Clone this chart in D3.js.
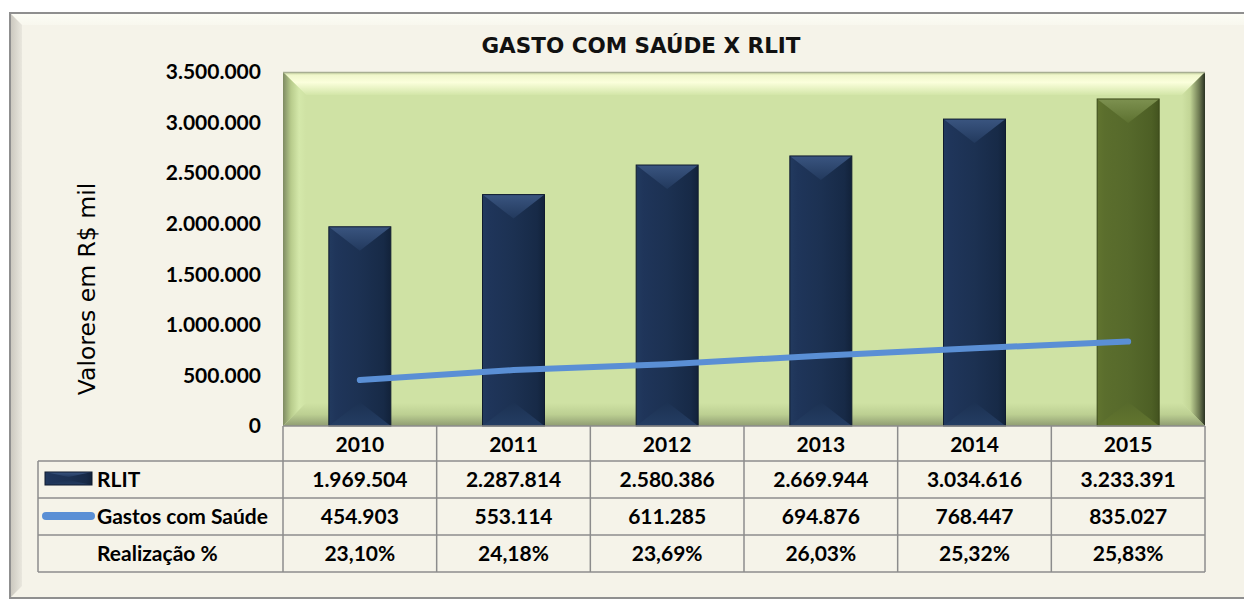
<!DOCTYPE html>
<html><head><meta charset="utf-8">
<script src="https://cdn.jsdelivr.net/npm/d3@7"></script>
<style>html,body{margin:0;padding:0;background:#fff;}svg{display:block;}</style>
</head><body>
<svg id="c" width="1244" height="601"></svg>
<script>
const years = ["2010","2011","2012","2013","2014","2015"];
const rlit = [1969504,2287814,2580386,2669944,3034616,3233391];
const gastos = [454903,553114,611285,694876,768447,835027];
const realizacao = ["23,10%","24,18%","23,69%","26,03%","25,32%","25,83%"];
const yTicks = [0,500000,1000000,1500000,2000000,2500000,3000000,3500000];
const rowLabels = ["RLIT","Gastos com Saúde","Realização %"];

const fmt = v => d3.format(",")(v).replace(/,/g,".");
const svg = d3.select("#c");
const defs = svg.append("defs");
function lin(id, x1,y1,x2,y2, stops){
  const g = defs.append("linearGradient").attr("id",id)
    .attr("x1",x1).attr("y1",y1).attr("x2",x2).attr("y2",y2);
  stops.forEach(s=>g.append("stop").attr("offset",s[0]).attr("stop-color",s[1]));
}
const FONT = "Lato, 'Open Sans', sans-serif";
const TFONT = "'DejaVu Sans', Verdana, sans-serif";

// outer frame
const F = {x0:10, y0:13, x1:1260, y1:598, b:12};
svg.append("rect").attr("x",F.x0).attr("y",F.y0).attr("width",F.x1-F.x0).attr("height",F.y1-F.y0)
  .attr("fill","#f5f3e9");
lin("fl","0","0","1","0",[[0,"#c9c6bd"],[1,"#e9e7de"]]);
lin("ft","0","0","0","1",[[0,"#fdfdf6"],[1,"#f8f7ee"]]);
svg.append("polygon").attr("points",[[F.x0,F.y0],[F.x1,F.y0],[F.x1-F.b,F.y0+F.b],[F.x0+F.b,F.y0+F.b]].join(" ")).attr("fill","url(#ft)");
svg.append("polygon").attr("points",[[F.x0,F.y0],[F.x0+F.b,F.y0+F.b],[F.x0+F.b,F.y1-F.b],[F.x0,F.y1]].join(" ")).attr("fill","url(#fl)");
svg.append("rect").attr("x",F.x0).attr("y",F.y0).attr("width",F.x1-F.x0).attr("height",F.y1-F.y0)
  .attr("fill","none").attr("stroke","#8f8f8f").attr("stroke-width",2);

// scales
const x = d3.scaleBand().domain(years).range([283,1205]).padding(0);
const y = d3.scaleLinear().domain([0,3500000]).range([426,72]);
const bw = 62;

// plot area with bevel
const P = {x0:x.range()[0], x1:x.range()[1], y0:y(3500000), y1:y(0), b:23};
svg.append("rect").attr("x",P.x0).attr("y",P.y0).attr("width",P.x1-P.x0).attr("height",P.y1-P.y0).attr("fill","#cfe2a4");
lin("pt","0","0","0","1",[[0,"#c9d6a0"],[0.15,"#f0f7cc"],[0.45,"#fbffdc"],[1,"#d3e6a8"]]);
lin("pl","0","0","1","0",[[0,"#7e8a62"],[0.35,"#b8cc8c"],[0.7,"#d4e8aa"],[1,"#cfe2a4"]]);
lin("pr","0","0","1","0",[[0,"#cfe2a4"],[0.35,"#c2d596"],[0.75,"#6e7a52"],[1,"#2a3222"]]);
lin("pb","0","0","0","1",[[0,"#cfe2a4"],[0.5,"#bccf92"],[1,"#8f9c72"]]);
svg.append("polygon").attr("points",[[P.x0,P.y0],[P.x1,P.y0],[P.x1-P.b,P.y0+P.b],[P.x0+P.b,P.y0+P.b]].join(" ")).attr("fill","url(#pt)");
svg.append("polygon").attr("points",[[P.x0,P.y0],[P.x0+P.b,P.y0+P.b],[P.x0+P.b,P.y1-P.b],[P.x0,P.y1]].join(" ")).attr("fill","url(#pl)");
svg.append("polygon").attr("points",[[P.x1,P.y0],[P.x1,P.y1],[P.x1-P.b,P.y1-P.b],[P.x1-P.b,P.y0+P.b]].join(" ")).attr("fill","url(#pr)");
svg.append("polygon").attr("points",[[P.x0,P.y1],[P.x0+P.b,P.y1-P.b],[P.x1-P.b,P.y1-P.b],[P.x1,P.y1]].join(" ")).attr("fill","url(#pb)");
svg.append("line").attr("x1",P.x0).attr("x2",P.x1).attr("y1",P.y0+0.5).attr("y2",P.y0+0.5).attr("stroke","#a7ae92").attr("stroke-width",1.5);

// bar gradients
lin("nbody","0","0","1","0",[[0,"#223a5f"],[0.12,"#1f355a"],[0.5,"#1c3152"],[0.88,"#172a47"],[1,"#12223a"]]);
lin("ntop","0","0","0","1",[[0,"#3a5580"],[1,"#22395d"]]);
lin("nbot","0","1","0","0",[[0,"#243d63"],[1,"#1c3152"]]);
lin("obody","0","0","1","0",[[0,"#61742f"],[0.12,"#5b6e2d"],[0.5,"#56692b"],[0.88,"#4d5f25"],[1,"#43531f"]]);
lin("otop","0","0","0","1",[[0,"#7d9150"],[1,"#5d7130"]]);
lin("obot","0","1","0","0",[[0,"#62752f"],[1,"#56692b"]]);
const palettes = {
  navy:{body:"url(#nbody)", top:"url(#ntop)", bot:"url(#nbot)", edge:"#0f1b2f"},
  olive:{body:"url(#obody)", top:"url(#otop)", bot:"url(#obot)", edge:"#3a4718"}
};
function drawBar(g, bx, by, w, h, p, dmax){
  const d = Math.min(w/2, dmax||24, h/2);
  g.append("rect").attr("x",bx).attr("y",by).attr("width",w).attr("height",h).attr("fill",p.body);
  g.append("polygon").attr("points",[[bx,by],[bx+w,by],[bx+w/2,by+d]].join(" ")).attr("fill",p.top);
  g.append("polygon").attr("points",[[bx,by+h],[bx+w,by+h],[bx+w/2,by+h-d]].join(" ")).attr("fill",p.bot);
  g.append("rect").attr("x",bx).attr("y",by).attr("width",w).attr("height",h).attr("fill","none").attr("stroke",p.edge).attr("stroke-width",1);
}
const barsG = svg.append("g");
years.forEach((yr,i)=>{
  const bx = x(yr)+x.bandwidth()/2-bw/2;
  drawBar(barsG, bx, y(rlit[i]), bw, y(0)-y(rlit[i]), i===years.length-1?palettes.olive:palettes.navy);
});

// line
const line = d3.line().x((d,i)=>x(years[i])+x.bandwidth()/2).y(d=>y(d));
svg.append("path").attr("d",line(gastos)).attr("fill","none").attr("stroke","#5a8fd5")
  .attr("stroke-width",6).attr("stroke-linecap","round");

// y axis labels
svg.append("g").selectAll("text").data(yTicks).join("text")
  .attr("x",261).attr("y",d=>y(d)).attr("dy","0.35em").attr("text-anchor","end")
  .attr("font-family",FONT).attr("font-weight","bold").attr("font-size",21).attr("fill","#000")
  .text(fmt);

// y title
svg.append("text").attr("transform","translate(95,289) rotate(-90)").attr("text-anchor","middle")
  .attr("font-family",TFONT).attr("font-size",23.5).attr("fill","#000").text("Valores em R$ mil");

// title
svg.append("text").attr("x",641).attr("y",53).attr("text-anchor","middle")
  .attr("font-family",TFONT).attr("font-weight","bold").attr("font-size",21.5).attr("fill","#111")
  .text("GASTO COM SAÚDE X RLIT");

// table
const rows = [426,461,498,535,572];
const T = svg.append("g");
const gridColor = "#8c8c8c";
years.concat(["end"]).forEach((yr,i)=>{
  const xx = i<years.length ? x(yr) : x.range()[1];
  T.append("line").attr("x1",xx).attr("x2",xx).attr("y1",rows[0]).attr("y2",rows[4]).attr("stroke",gridColor).attr("stroke-width",1.5);
});
T.append("line").attr("x1",P.x0).attr("x2",P.x1).attr("y1",rows[0]).attr("y2",rows[0]).attr("stroke",gridColor).attr("stroke-width",1.5);
[1,2,3,4].forEach(r=>{
  T.append("line").attr("x1",38).attr("x2",P.x1).attr("y1",rows[r]).attr("y2",rows[r]).attr("stroke",gridColor).attr("stroke-width",1.5);
});
T.append("line").attr("x1",38).attr("x2",38).attr("y1",rows[1]).attr("y2",rows[4]).attr("stroke",gridColor).attr("stroke-width",1.5);

const cellText = (tx,ty,t,anchor)=>T.append("text").attr("x",tx).attr("y",ty).attr("dy","0.35em")
  .attr("text-anchor",anchor||"middle").attr("font-family",FONT).attr("font-weight","bold")
  .attr("font-size",21).attr("fill","#000").text(t);
years.forEach((yr,i)=>{
  const cx = x(yr)+x.bandwidth()/2;
  cellText(cx,(rows[0]+rows[1])/2+1,yr);
  cellText(cx,(rows[1]+rows[2])/2,fmt(rlit[i]));
  cellText(cx,(rows[2]+rows[3])/2,fmt(gastos[i]));
  cellText(cx,(rows[3]+rows[4])/2,realizacao[i]);
});
rowLabels.forEach((l,r)=>cellText(97,(rows[r+1]+rows[r+2])/2,l,"start"));

// legend keys
const kg = T.append("g");
drawBar(kg, 45, 472, 47, 13, palettes.navy, 5);
kg.append("line").attr("x1",46).attr("x2",91).attr("y1",516).attr("y2",516).attr("stroke","#5a8fd5")
  .attr("stroke-width",8).attr("stroke-linecap","round");
</script>
</body></html>
